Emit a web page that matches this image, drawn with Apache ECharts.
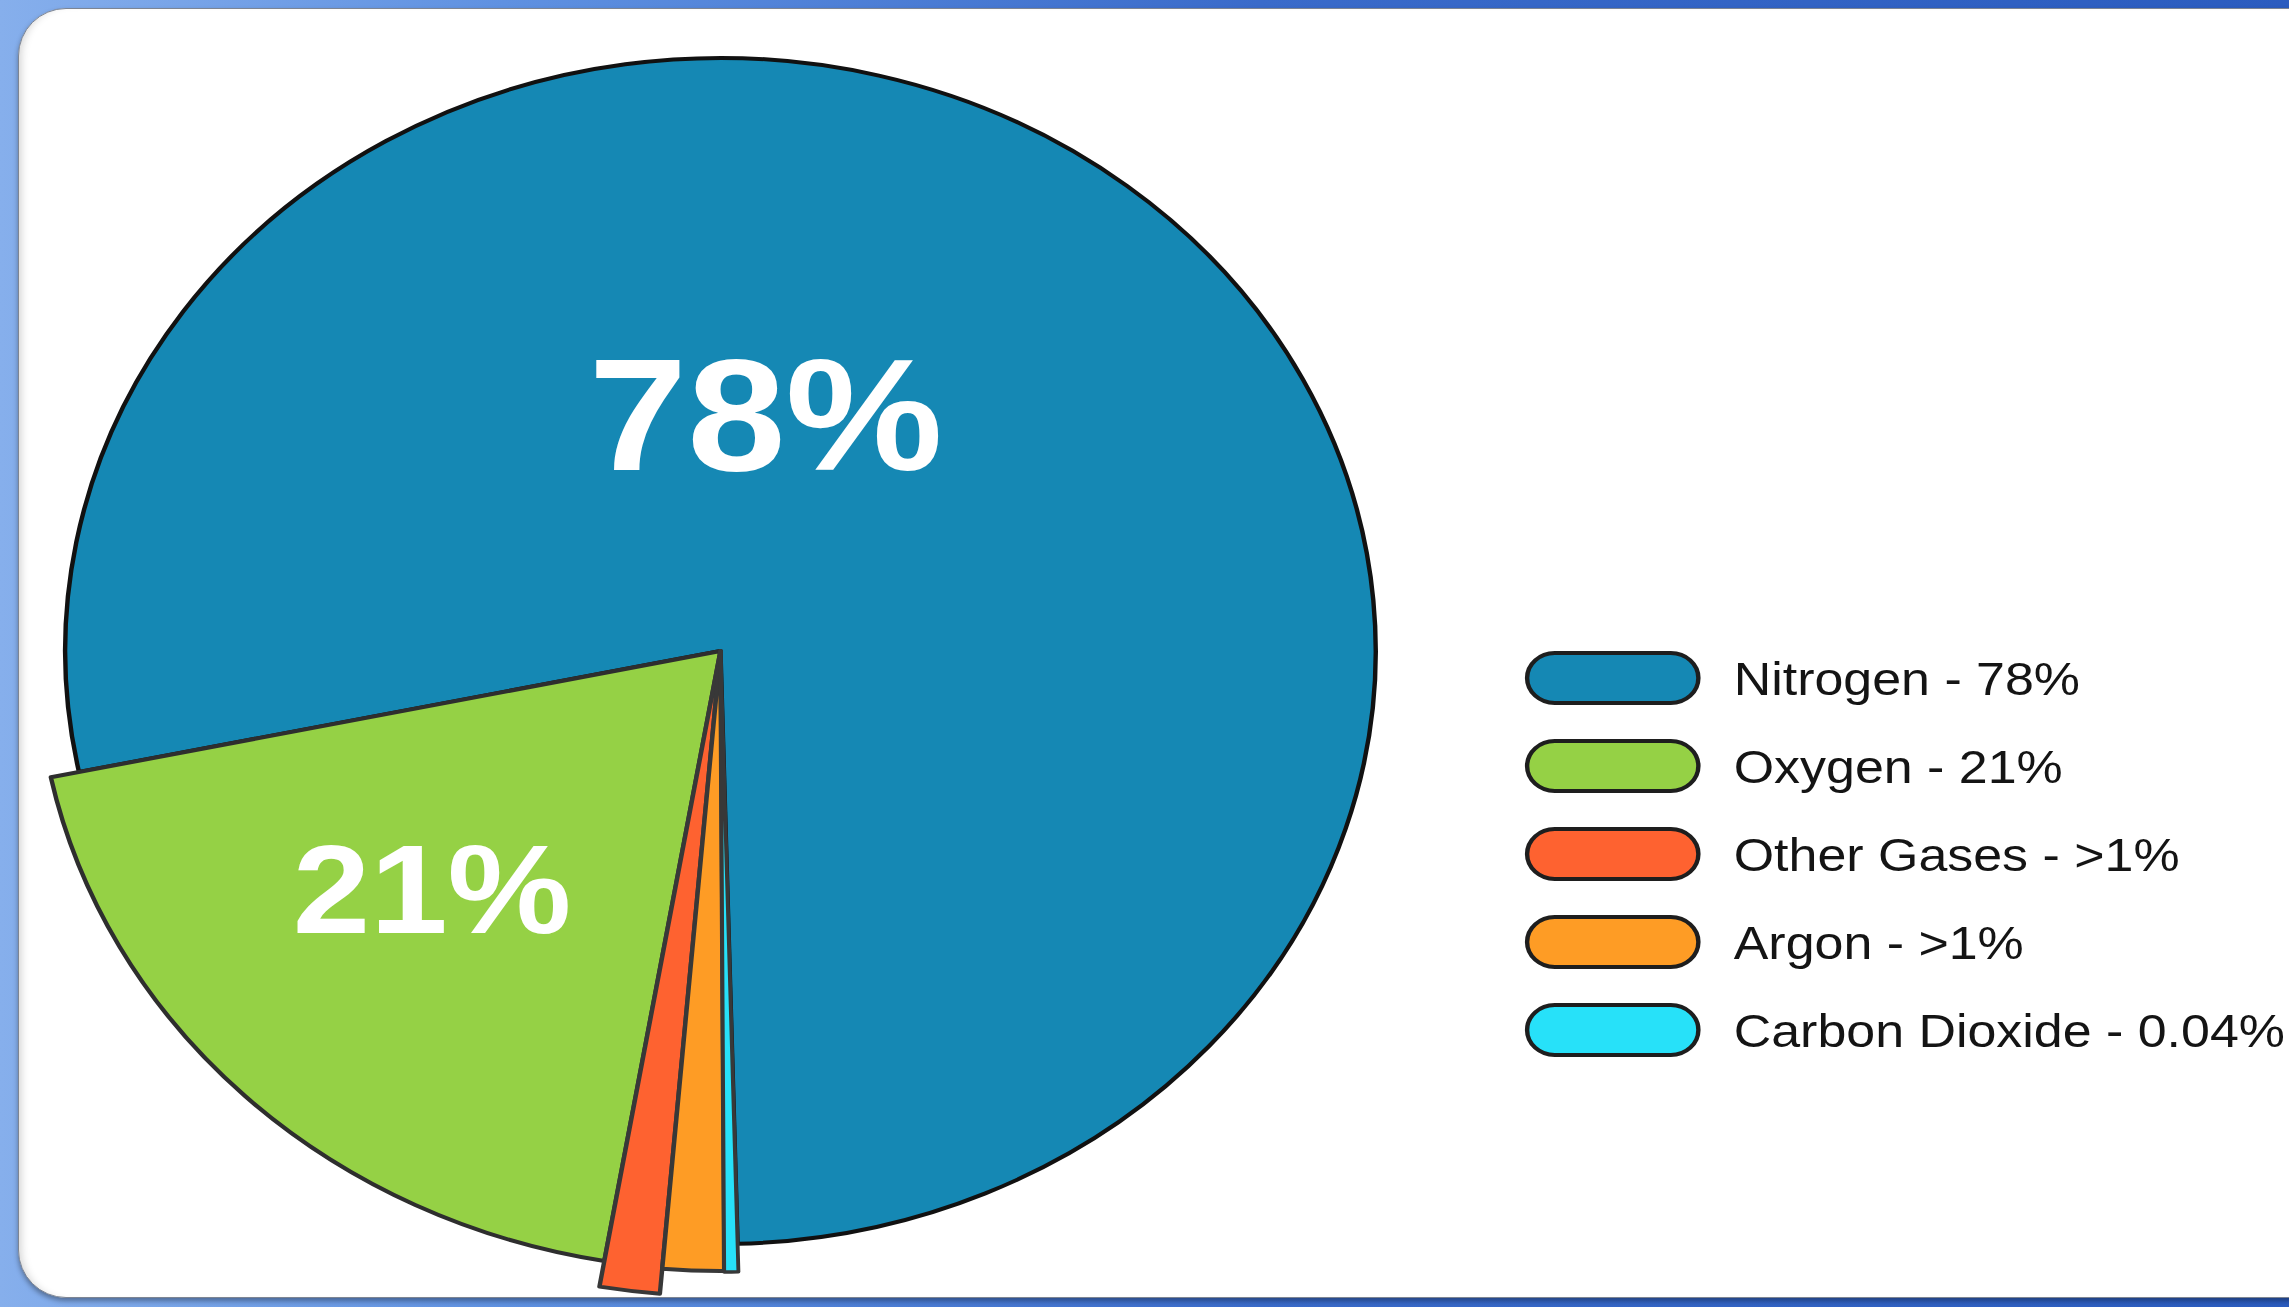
<!DOCTYPE html>
<html>
<head>
<meta charset="utf-8">
<script src="https://cdn.jsdelivr.net/npm/echarts@6/dist/echarts.min.js"></script>
<style>
html, body { margin: 0; padding: 0; width: 2289px; height: 1307px; overflow: hidden; }
body { position: relative; background: linear-gradient(90deg, #86afec 0%, #5f91e1 22%, #3a6bca 55%, #2b5cbf 100%); }
#panel { position: absolute; left: 18px; top: 8px; width: 2330px; height: 1290px; background: #fff;
  border-radius: 48px; border: 1px solid #7d8593; box-sizing: border-box;
  box-shadow: inset 8px 0 8px -6px rgba(0,0,0,0.18), 0 3px 5px rgba(0,0,0,0.35); }
#chart { position: absolute; left: 0; top: 0; width: 2072px; height: 1307px; transform: scaleX(1.105); transform-origin: 0 0; }
</style>
</head>
<body>
<div id="panel"></div>
<div id="chart"></div>
<script>
// ---- data ----
const gasNames = ['Nitrogen', 'Oxygen', 'Other Gases', 'Argon', 'Carbon Dioxide'];
const sliceShares = [77.8, 19.0, 1.36, 1.44, 0.33];          // drawn slice sizes (%)
const legendPercents = ['78%', '21%', '>1%', '>1%', '0.04%'];  // legend text values
const sliceLabels = ['78%', '21%'];                           // big labels on slices

// ---- styles ----
const sliceColors = ['#1588b4', '#95d145', '#fe6230', '#fe9c25', '#27e1f9'];
const sliceBorders = ['#111111', '#2e2e2e', '#383838', '#383838', '#383838'];
const sliceBorderWidths = [4, 4, 4, 4, 3.5];
const sliceRadii = [593, 619, 645, 620, 621];

const chart = echarts.init(document.getElementById('chart'), null, { renderer: 'svg' });

const series = gasNames.map(function (nm, k) {
  return {
    type: 'pie',
    name: nm,
    center: [652, 651],
    radius: [0, sliceRadii[k]],
    startAngle: 271.5,
    clockwise: false,
    silent: true,
    animation: false,
    z: 2 + k,
    label: { show: false },
    labelLine: { show: false },
    data: gasNames.map(function (n, i) {
      return {
        name: n,
        value: sliceShares[i],
        itemStyle: i === k
          ? { color: sliceColors[i], borderColor: sliceBorders[i], borderWidth: sliceBorderWidths[i], borderJoin: 'round' }
          : { color: 'rgba(0,0,0,0)', borderWidth: 0 }
      };
    })
  };
});

chart.setOption({
  backgroundColor: 'transparent',
  animation: false,
  legend: {
    orient: 'vertical',
    left: 1380,
    top: 651,
    padding: 0,
    itemGap: 34,
    itemWidth: 155,
    itemHeight: 50,
    selectedMode: false,
    icon: 'path://M25,0L130,0A25,25 0 0 1 130,50L25,50A25,25 0 0 1 25,0Z',
    data: gasNames.map(function (n, i) {
      return { name: n, itemStyle: { color: sliceColors[i], borderColor: '#1e1e1e', borderWidth: 4 } };
    }),
    formatter: function (n) { return n + ' - ' + legendPercents[gasNames.indexOf(n)]; },
    textStyle: { fontFamily: 'Liberation Sans', fontSize: 47, color: '#141414', padding: [0, 0, 0, 27] }
  },
  graphic: [
    { type: 'text', x: 693, y: 414, z: 100, silent: true,
      style: { text: sliceLabels[0], fontFamily: 'Liberation Sans', fontWeight: 'bold', fontSize: 160,
               fill: '#ffffff', align: 'center', verticalAlign: 'middle' } },
    { type: 'text', x: 391, y: 889, z: 100, silent: true,
      style: { text: sliceLabels[1], fontFamily: 'Liberation Sans', fontWeight: 'bold', fontSize: 126,
               fill: '#ffffff', align: 'center', verticalAlign: 'middle' } }
  ],
  series: series
});
</script>
</body>
</html>
